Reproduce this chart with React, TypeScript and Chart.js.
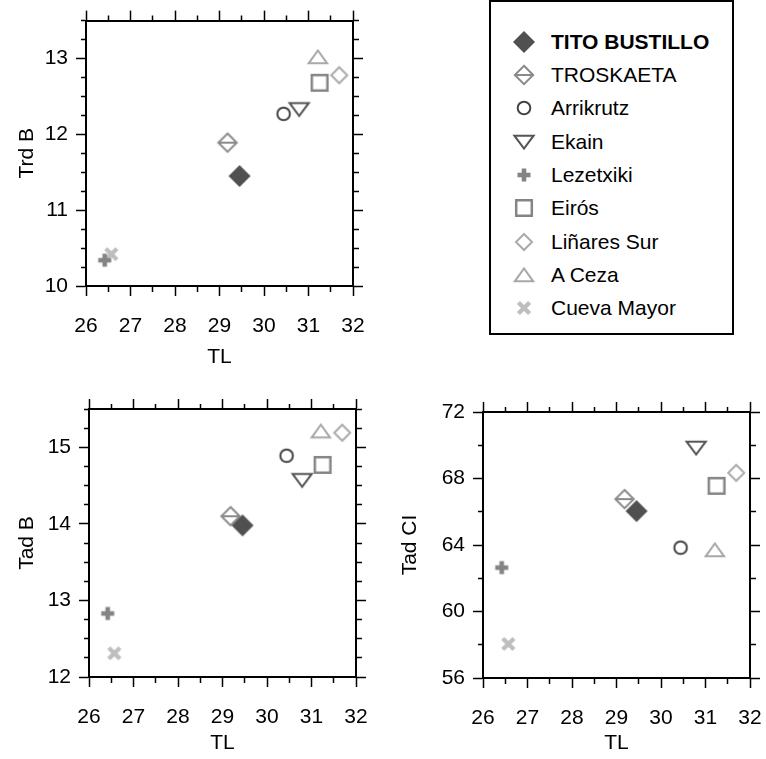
import React, { useEffect, useRef } from 'react';
import { Chart, registerables } from 'chart.js';
Chart.register(...registerables);

// ---------- data ----------
const caves = ['TITO BUSTILLO', 'TROSKAETA', 'Arrikrutz', 'Ekain', 'Lezetxiki', 'Eirós', 'Liñares Sur', 'A Ceza', 'Cueva Mayor'];
const tl = [29.45, 29.18, 30.44, 30.79, 26.42, 31.25, 31.69, 31.21, 26.57];
const trdB = [11.45, 11.89, 12.27, 12.33, 10.34, 12.68, 12.78, 13.02, 10.42];
const tadB = [13.98, 14.1, 14.89, 14.57, 12.83, 14.77, 15.19, 15.21, 12.31];
const tadCI = [66.04, 66.76, 63.84, 69.84, 62.64, 67.56, 68.34, 63.7, 58.05];

const tlTicks = [26, 26.5, 27, 27.5, 28, 28.5, 29, 29.5, 30, 30.5, 31, 31.5, 32];
const tlLabels = ['26', '27', '28', '29', '30', '31', '32'];
const trdBTicks = [10, 10.25, 10.5, 10.75, 11, 11.25, 11.5, 11.75, 12, 12.25, 12.5, 12.75, 13, 13.25, 13.5];
const trdBLabels = ['10', '11', '12', '13'];
const tadBTicks = [12, 12.25, 12.5, 12.75, 13, 13.25, 13.5, 13.75, 14, 14.25, 14.5, 14.75, 15, 15.25, 15.5];
const tadBLabels = ['12', '13', '14', '15'];
const tadCITicks = [56, 58, 60, 62, 64, 66, 68, 70, 72];
const tadCILabels = ['56', '60', '64', '68', '72'];

// ---------- styles ----------
const FONT = "'Liberation Sans', Arial, Helvetica, sans-serif";
const markerTypes = ['diamondFill', 'diamondLine', 'circle', 'triDown', 'plus', 'square', 'diamond', 'triUp', 'cross'];
const markerColors = ['#505050', '#8a8a8a', '#444444', '#555555', '#848484', '#858585', '#ababab', '#a8a8a8', '#bebebe'];

function makeMarker(type: string, color: string): HTMLCanvasElement {
  const c = document.createElement('canvas');
  c.width = 30;
  c.height = 30;
  const g = c.getContext('2d')!;
  g.translate(15, 15);
  g.strokeStyle = color;
  g.fillStyle = color;
  g.lineWidth = 2;
  g.lineJoin = 'miter';
  g.beginPath();
  switch (type) {
    case 'diamondFill':
      g.moveTo(0, -11); g.lineTo(11, 0); g.lineTo(0, 11); g.lineTo(-11, 0); g.closePath(); g.fill();
      break;
    case 'diamondLine':
      g.moveTo(0, -9.2); g.lineTo(9.2, 0); g.lineTo(0, 9.2); g.lineTo(-9.2, 0); g.closePath();
      g.moveTo(-9.2, 0); g.lineTo(9.2, 0); g.stroke();
      break;
    case 'circle':
      g.arc(0, 0, 6.3, 0, Math.PI * 2); g.stroke();
      break;
    case 'triDown':
      g.moveTo(-9.6, -6.3); g.lineTo(9.6, -6.3); g.lineTo(0, 6.5); g.closePath(); g.stroke();
      break;
    case 'plus':
      g.fillRect(-6.5, -2.3, 13, 4.6); g.fillRect(-2.3, -6.5, 4.6, 13);
      break;
    case 'square':
      g.lineWidth = 2.5; g.rect(-7.8, -7.8, 15.6, 15.6); g.stroke();
      break;
    case 'diamond':
      g.moveTo(0, -8); g.lineTo(8, 0); g.lineTo(0, 8); g.lineTo(-8, 0); g.closePath(); g.stroke();
      break;
    case 'triUp':
      g.moveTo(-9.2, 6.3); g.lineTo(9.2, 6.3); g.lineTo(0, -6.5); g.closePath(); g.stroke();
      break;
    case 'cross':
      g.lineWidth = 4.3;
      g.moveTo(-5.6, -5.6); g.lineTo(5.6, 5.6); g.moveTo(5.6, -5.6); g.lineTo(-5.6, 5.6); g.stroke();
      break;
  }
  return c;
}

type Box = { left: number; top: number; right: number; bottom: number };
type Pads = { xTick: number; xTitle: number; yTick: number; yTitle: number };

function makeChart(
  canvas: HTMLCanvasElement,
  markers: HTMLCanvasElement[],
  yVals: number[],
  yTicks: number[],
  yLabels: string[],
  yTitle: string,
  box: Box,
  pads: Pads
) {
  const isMajorX = (v: number) => tlLabels.includes(String(v));
  const isMajorY = (v: number) => yLabels.includes(String(v));
  const outerDash = [0, 5, 5, 100];
  const innerDash = [5, 100];
  const tickFont = { family: FONT, size: 21 };
  const border = { display: true, color: '#000', width: 2 };
  const lin = (arr: number[]) => ({
    type: 'linear' as const,
    min: arr[0],
    max: arr[arr.length - 1],
    afterBuildTicks: (s: any) => {
      s.ticks = arr.map((v) => ({ value: v }));
    },
  });
  const grid = (major: (v: number) => boolean, dash: number[]) => ({
    drawOnChartArea: false,
    drawTicks: true,
    tickLength: 10,
    tickWidth: 1.5,
    tickColor: '#000',
    tickBorderDash: (c: any) => (c.tick && major(c.tick.value) ? [] : dash),
  });

  return new Chart(canvas, {
    type: 'scatter',
    data: {
      datasets: caves.map((name, i) => ({
        label: name,
        data: [{ x: tl[i], y: yVals[i] }],
        pointStyle: markers[i],
        pointRadius: 11,
        pointHoverRadius: 11,
      })),
    },
    options: {
      responsive: false,
      animation: false,
      events: [],
      plugins: { legend: { display: false }, tooltip: { enabled: false } },
      layout: { padding: 0 },
      scales: {
        x: {
          ...lin(tlTicks),
          position: 'bottom',
          afterFit: (s: any) => { s.height = box.bottom; },
          ticks: {
            autoSkip: false, maxRotation: 0, minRotation: 0, padding: pads.xTick,
            font: tickFont, color: '#000',
            callback: (v: any) => (isMajorX(Number(v)) ? String(v) : ''),
          },
          grid: grid(isMajorX, innerDash),
          border,
          title: { display: true, text: 'TL', font: tickFont, color: '#000', padding: { top: 0, bottom: pads.xTitle } },
        },
        x2: {
          ...lin(tlTicks),
          position: 'top',
          afterFit: (s: any) => { s.height = box.top; },
          ticks: { display: false },
          grid: grid(isMajorX, outerDash),
          border,
        },
        y: {
          ...lin(yTicks),
          position: 'left',
          afterFit: (s: any) => { s.width = box.left; },
          ticks: {
            autoSkip: false, padding: pads.yTick, font: tickFont, color: '#000',
            callback: (v: any) => (isMajorY(Number(v)) ? String(v) : ''),
          },
          grid: grid(isMajorY, outerDash),
          border,
          title: { display: true, text: yTitle, font: tickFont, color: '#000', padding: { top: pads.yTitle, bottom: 0 } },
        },
        y2: {
          ...lin(yTicks),
          position: 'right',
          afterFit: (s: any) => { s.width = box.right; },
          ticks: { display: false },
          grid: grid(isMajorY, innerDash),
          border,
        },
      },
    } as any,
  });
}

const legendX = 524;
const legendTextX = 551;
const legendTop = 41.7;
const legendStep = 33.3;

export default function App() {
  const c1 = useRef<HTMLCanvasElement>(null);
  const c2 = useRef<HTMLCanvasElement>(null);
  const c3 = useRef<HTMLCanvasElement>(null);
  const legendRefs = useRef<(HTMLCanvasElement | null)[]>([]);

  useEffect(() => {
    const markers = markerTypes.map((t, i) => makeMarker(t, markerColors[i]));
    const charts = [
      makeChart(c1.current!, markers, trdB, trdBTicks, trdBLabels, 'Trd B',
        { left: 86, top: 19, right: 37, bottom: 84 }, { xTick: 18, xTitle: 0, yTick: 8, yTitle: 15 }),
      makeChart(c2.current!, markers, tadB, tadBTicks, tadBLabels, 'Tad B',
        { left: 89, top: 29, right: 34, bottom: 82 }, { xTick: 18, xTitle: 3, yTick: 8, yTitle: 15 }),
      makeChart(c3.current!, markers, tadCI, tadCITicks, tadCILabels, 'Tad CI',
        { left: 100, top: 32, right: 33, bottom: 81 }, { xTick: 18, xTitle: 3, yTick: 8, yTitle: 15 }),
    ];
    legendRefs.current.forEach((cv, i) => {
      if (!cv) return;
      const g = cv.getContext('2d')!;
      g.clearRect(0, 0, 30, 30);
      g.drawImage(markers[i], 0, 0);
    });
    return () => charts.forEach((ch) => ch.destroy());
  }, []);

  return (
    <div style={{ position: 'absolute', left: 0, top: 0, width: 766, height: 759, background: '#fff', overflow: 'hidden' }}>
      <canvas ref={c1} width={390} height={370} style={{ position: 'absolute', left: 0, top: 0 }} />
      <canvas ref={c2} width={390} height={379} style={{ position: 'absolute', left: 0, top: 380 }} />
      <canvas ref={c3} width={400} height={379} style={{ position: 'absolute', left: 383, top: 380 }} />
      <div
        style={{
          position: 'absolute', left: 489, top: 0, width: 245, height: 335,
          border: '2px solid #000', boxSizing: 'border-box', background: '#fff',
        }}
      />
      {caves.map((name, i) => {
        const cy = legendTop + i * legendStep;
        return (
          <React.Fragment key={name}>
            <canvas
              ref={(el) => { legendRefs.current[i] = el; }}
              width={30}
              height={30}
              style={{ position: 'absolute', left: legendX - 15, top: Math.round(cy - 15) }}
            />
            <span
              style={{
                position: 'absolute', left: legendTextX, top: cy - 12, lineHeight: '24px',
                fontFamily: FONT, fontSize: 21, fontWeight: i === 0 ? 'bold' : 'normal',
                color: '#000', whiteSpace: 'nowrap',
              }}
            >
              {name}
            </span>
          </React.Fragment>
        );
      })}
    </div>
  );
}
